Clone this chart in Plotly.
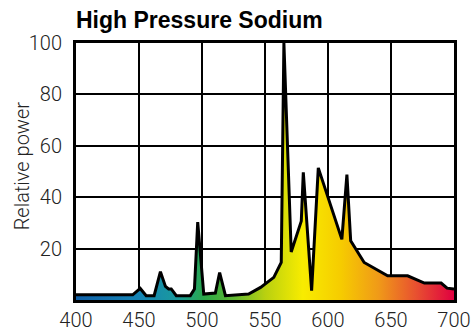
import plotly.graph_objects as go

wavelength = [400, 445, 451, 455.7, 462, 467, 471, 473.5, 475.6, 479.6, 490.7, 494, 496.6, 501.4,
              510.6, 514, 518.6, 537, 546.5, 557, 562.9, 565, 570.8, 578.8, 580.4, 587, 592.3,
              611, 615, 618, 628.7, 647.3, 663.2, 676.5, 689.8, 694.5, 700]
power = [2, 2, 4.5, 1.7, 1.7, 11, 5.3, 4.3, 4.3, 1.7, 1.7, 4.3, 30.3, 2.3,
         2.7, 10.7, 1.7, 2.3, 4.9, 8.8, 14.6, 100, 18.7, 30.7, 49.7, 3.6, 51.4,
         23.6, 48.8, 23, 14.6, 9.4, 9.4, 6.6, 6.6, 4.6, 4.3]

x_ticks = [400, 450, 500, 550, 600, 650, 700]
y_ticks = [20, 40, 60, 80, 100]

spectrum_scale = [
    [0.0, "#1060a8"], [0.17, "#1585b5"], [0.27, "#1a9a9c"], [0.34, "#2aa848"],
    [0.42, "#62b830"], [0.5, "#b8d010"], [0.6, "#f8ec00"], [0.7, "#f6cc00"],
    [0.8, "#f09a18"], [0.9, "#e85030"], [1.0, "#e00040"],
]

fig = go.Figure()
fig.add_trace(go.Scatter(
    x=wavelength, y=power, mode="lines",
    line=dict(color="black", width=3),
    fill="tozeroy",
    fillgradient=dict(type="horizontal", colorscale=spectrum_scale, start=400, stop=700),
    hoverinfo="skip",
))

light = "Roboto, Liberation Sans, sans-serif"
bold = "Liberation Sans, Arial, sans-serif"
fig.update_layout(
    width=474, height=333,
    margin=dict(l=76, r=20, t=43, b=33, autoexpand=False),
    plot_bgcolor="white", paper_bgcolor="white",
    showlegend=False,
    font=dict(family=light, color="#222222", size=20, weight=300),
    title=dict(text="<b>High Pressure Sodium</b>", x=76/474, xanchor="left", xref="container",
               y=1 - 20/333, yanchor="middle", yref="container",
               font=dict(family=bold, size=23, color="black", weight=700)),
)
fig.add_annotation(text="Relative power", xref="paper", yref="paper", x=(22 - 76) / 378, y=0.52,
                   textangle=-90, showarrow=False, xanchor="center", yanchor="middle",
                   font=dict(family=light, size=20, color="#222222", weight=300))
fig.update_xaxes(range=[400, 700], tickvals=x_ticks, showgrid=True, gridcolor="black", gridwidth=1.5,
                 showline=True, linecolor="black", linewidth=3, mirror=True, ticks="",
                 automargin=False, ticklabelstandoff=0,
                 zeroline=False, tickfont=dict(family=light, size=20, color="#222222", weight=300))
fig.update_yaxes(range=[0, 100], tickvals=y_ticks, showgrid=True, gridcolor="black", gridwidth=1.5,
                 showline=True, linecolor="black", linewidth=3, mirror=True, ticks="",
                 automargin=False, ticklabelstandoff=7,
                 zeroline=False, tickfont=dict(family=light, size=20, color="#222222", weight=300))

fig.write_html("out.html")
